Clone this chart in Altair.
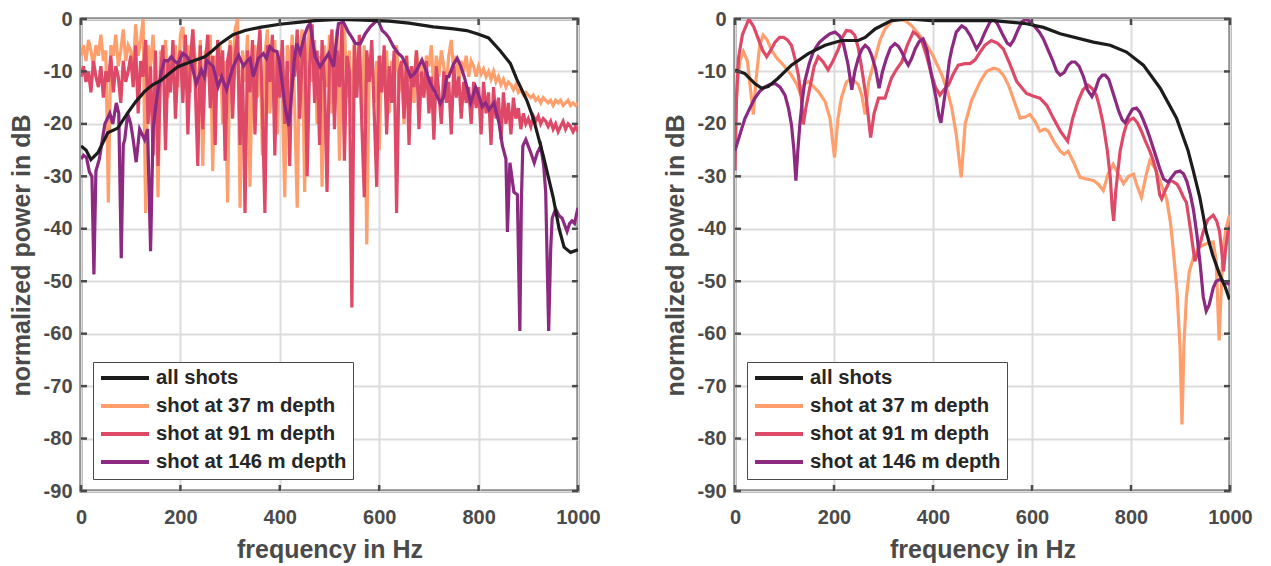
import altair as alt
import pandas as pd

SERIES = ["all shots", "shot at 37 m depth", "shot at 91 m depth", "shot at 146 m depth"]
COLORS = ["#1c1c1c", "#fe9f6d", "#de4968", "#8c2981"]
X_TICKS = [0, 200, 400, 600, 800, 1000]
Y_TICKS = [-90, -80, -70, -60, -50, -40, -30, -20, -10, 0]

# ---------------- left panel (raw spectra) ----------------
L_ALL = [(0, -24.2), (10, -25), (20, -26.8), (34, -25.5), (54, -21.7), (74, -20.8), (94, -17.9),
         (110, -15.8), (128, -13.8), (145, -12.5), (161, -11.7), (180, -10.2), (195, -9.1),
         (220, -8.2), (249, -7.2), (265, -6.0), (280, -4.7), (306, -3.0), (330, -2.2), (360, -1.6),
         (400, -1.0), (441, -0.6), (470, -0.3), (520, -0.1), (570, -0.2), (620, -0.4), (660, -0.8),
         (709, -1.5), (750, -1.9), (776, -2.2), (800, -2.9), (820, -3.6), (843, -6.0), (864, -8.5),
         (877, -11.5), (897, -15.5), (910, -18.9), (930, -26), (950, -34), (962, -40), (972, -43.5),
         (985, -44.5), (1000, -44)]

L_FREQ = list(range(0, 1001, 5))

L_37 = [-7, -5, -8, -4, -6, -9, -5, -7, -3, -8, -6, -35, -5, -7, -3, -9, -6, -2, -8, -5,
        -6, -10, -1, -7, -4, 0, -37, -5, -9, -3, -12, -34, -6, -10, -4, -15, -7, -11, -5, -13,
        -3, -1.5, -9, -5, -14, -2, -8, -18, -4, -28, -6, -11, -3, -29, -7, -12, -5, -20, -8, -35,
        -4, -10, -2, 0, -36, -6, -12, -3, -32, -8, -5, -15, -3, -26, -7, -2, -18, -9, -4, -22,
        -6, -14, -34, -5, -10, -3, -17, -36, -6, -2, -33, -8, 0, -12, -4, -20, -7, -32, -5, -13,
        -3, -18, -8, -2, -27, -5, -1, -15, -6, -22, -4, -12, -7, -19, -5, -43, -9, -6, -16, -8,
        -25, -7, -12, -6, -18, -8, -11, -5, -14, -8, -20, -7, -12, -9, -16, -6, -11, -8, -13, -7,
        -9, -5, -14, -7, -11, -6, -9, -13, -7, -4, -10, -7, -12, -8, -10, -7, -11, -8, -9, -11,
        -9, -10.5, -9.5, -11, -10, -11.5, -10, -12, -11, -12.5, -11.5, -13, -12, -12.5, -13.5, -12.5, -14, -13.5, -14.5, -14,
        -14.5, -15, -14.5, -15.5, -15, -16, -15, -15.5, -16, -15.5, -16.5, -15.5, -16, -15.5, -16.5, -16, -15.5, -16.5, -16, -16.5,
        -16]

L_91 = [-11, -9, -12, -10, -14, -8, -11, -13, -9, -15, -10, -12, -7, -14, -9, -11, -16, -8, -12, -10,
        -7, -13, -5, -18, -8, -11, -4, -20, -9, -26, -6, -28, -10, -5, -25, -8, -14, -4, -19, -9,
        -6, -16, -3, -22, -8, -2, -13, -28, -5, -21, -9, -3, -17, -7, -24, -4, -11, -6, -27, -8,
        -5, -19, -7, -3, -24, -9, -37, -6, -14, -4, -22, -8, -2, -17, -37, -5, -12, -3, -26, -7,
        -15, -4, -20, -8, -28, -5, -11, -2, -19, -7, -3, -30, -9, -1, -16, -6, -24, -4, -12, -33,
        -8, -2, -21, -6, -13, -1, -27, -7, -10, -55, -5, -15, -3, -20, -34, -6, -12, -4, -18, -32,
        -7, -14, -5, -22, -9, -16, -6, -37, -10, -8, -19, -7, -24, -9, -13, -6, -21, -10, -15, -8,
        -18, -11, -23, -9, -14, -20, -10, -16, -12, -22, -9, -15, -11, -19, -12, -16, -13, -20, -12, -17,
        -13, -22, -12, -18, -14, -24, -13, -19, -15, -23, -14, -20, -16, -22, -15, -19, -17, -21, -18, -20,
        -19, -20.5, -18.5, -19.5, -18.5, -20, -19, -19.5, -20.5, -19.5, -21, -20, -21.5, -20.5, -19.5, -21, -20, -20.5, -21.5, -20.5,
        -21.5]

L_146 = [(0, -26.7), (5, -26), (11, -26.4), (17, -29.2), (22, -30), (26, -48.7), (30, -29), (37, -26.7),
         (43, -23), (48, -20), (53, -19), (58, -18), (64, -20), (71, -16), (76, -18), (81, -45.6),
         (85, -24), (88, -23), (94, -18), (100, -20), (105, -23), (111, -27.3), (118, -21), (123, -22),
         (128, -23), (134, -21), (140, -44.3), (145, -21), (150, -17), (155, -13.5), (162, -10),
         (168, -7.9), (175, -8), (182, -7.2), (188, -8), (195, -8.5), (200, -7.5), (205, -6.6),
         (212, -7), (222, -8.5), (232, -12.3), (242, -9.7), (248, -11), (253, -7.9), (260, -8.5),
         (266, -9.1), (276, -12.9), (283, -11), (293, -13.5), (300, -11), (306, -9.1), (317, -6.9),
         (327, -9), (334, -8), (340, -7.5), (347, -11), (357, -7.5), (367, -6.6), (373, -7.5),
         (380, -5.3), (387, -6), (394, -6.2), (399, -8), (404, -11.6), (410, -16.4), (418, -20.4),
         (424, -14), (429, -8), (434, -4.7), (441, -6.5), (450, -3), (456, -1.5), (461, -0.9),
         (466, -4), (471, -7.2), (481, -9.1), (485, -8.5), (494, -7.2), (498, -6.6), (508, -9.1),
         (513, -5), (518, -0.9), (528, -0.6), (538, -2.5), (545, -3.5), (552, -4.7), (562, -4.7),
         (572, -2.8), (582, -1.5), (592, -0.6), (598, -0.3), (606, -2.2), (613, -2.8), (619, -3.5),
         (629, -5.3), (638, -6.5), (646, -7.2), (655, -9), (663, -11), (670, -10.5), (676, -9.7),
         (686, -7.8), (695, -10), (703, -12.3), (713, -14), (723, -16.1), (730, -14.8), (736, -11),
         (740, -11), (750, -8.5), (757, -7.5), (764, -9), (771, -11), (778, -13.5), (784, -16),
         (794, -13), (800, -14.5), (807, -16.7), (814, -16), (821, -17.3), (831, -16), (841, -19.8),
         (848, -24.2), (855, -26.7), (858, -40.6), (863, -27.4), (871, -33), (878, -33.5),
         (883, -59.5), (886, -35), (889, -24.2), (895, -23), (905, -25.5), (912, -27.4),
         (918, -25.5), (925, -24.2), (931, -28), (935, -33), (941, -59.5), (945, -44), (948, -38),
         (955, -36.2), (962, -37.5), (968, -38), (978, -40.5), (983, -39), (988, -38.5), (993, -39),
         (998, -36.8), (1000, -36)]

# ---------------- right panel (smoothed spectra) ----------------
R_ALL = [(0, -9.75), (20, -10.4), (40, -12.3), (54, -13.2), (67, -12.9), (87, -11.3), (114, -8.8),
         (148, -6.6), (182, -5.0), (215, -4.1), (249, -4.1), (263, -3.5), (283, -1.9), (316, -0.3),
         (350, 0), (397, -0.3), (455, -0.3), (522, -0.3), (589, -0.9), (623, -1.6), (657, -2.8),
         (724, -4.4), (758, -5.0), (791, -6.3), (825, -8.8), (859, -13.2), (892, -18.9), (915, -25),
         (926, -29), (939, -34), (952, -40.6), (965, -45), (979, -48.7), (990, -51), (999, -53.5)]

R_37 = [(0, -20), (5, -12), (10, -8), (17, -6.2), (25, -8), (32, -14), (37, -18.2), (42, -12), (50, -5),
        (57, -3.1), (65, -4), (75, -6.2), (85, -7.5), (98, -8.8), (114, -10.7), (125, -12.5),
        (131, -14), (140, -12.5), (148, -11.9), (168, -13.8), (182, -15.7), (192, -19), (201, -26.4),
        (208, -19), (215, -15), (225, -12), (236, -11.3), (249, -12.5), (256, -14.5), (263, -18.2),
        (270, -12), (283, -7.5), (293, -4), (303, -1.9), (316, -0.5), (330, 0), (344, -0.3),
        (357, -1.3), (370, -2.8), (384, -4.4), (400, -7), (418, -10.7), (430, -14), (438, -17),
        (447, -22), (457, -30.2), (465, -20), (478, -15.5), (495, -12), (508, -10), (522, -9.4),
        (532, -9.6), (542, -10.7), (552, -12.5), (562, -15.1), (576, -18.9), (586, -18.7),
        (596, -18.2), (606, -19.5), (616, -21.4), (626, -21), (633, -21.4), (645, -23.5),
        (657, -25.2), (665, -25.8), (673, -25.2), (685, -27.5), (697, -30.2), (710, -30.5),
        (724, -30.8), (734, -31.5), (744, -32.7), (754, -29.5), (764, -27.7), (774, -29.5),
        (785, -31.4), (795, -30), (805, -29.6), (813, -32), (821, -34), (830, -30), (838, -27),
        (849, -28.5), (859, -31), (872, -34.3), (880, -39), (885, -43.7), (893, -52), (899, -62.6),
        (903, -77.3), (907, -62), (912, -53), (918, -48), (926, -45.6), (936, -43.6), (946, -43.1),
        (956, -42.7), (966, -42.5), (972, -46), (978, -61.3), (983, -50), (986, -43.7), (992, -40),
        (999, -37.4)]

R_91 = [(0, -28.9), (3, -15), (7, -7.5), (15, -3), (28, 0), (38, -1.5), (47, -3.8), (56, -6), (64, -7.2),
        (72, -6), (81, -4.4), (90, -3.5), (98, -3.5), (106, -4), (114, -5), (121, -7.5), (128, -10.7),
        (134, -15), (138, -20.1), (143, -17), (151, -13.2), (160, -9), (168, -7.2), (178, -8.2),
        (188, -9.7), (198, -8), (209, -5.7), (217, -3.5), (225, -2.2), (234, -2.3), (242, -3.1),
        (249, -5.5), (256, -9.4), (265, -15), (274, -22.6), (281, -18), (290, -15.1), (303, -15.1),
        (316, -11.3), (327, -9.5), (337, -8.2), (348, -5), (360, -2.5), (368, -3), (377, -4.1),
        (387, -7), (397, -10.7), (405, -13), (414, -14.5), (422, -13.5), (431, -12.6), (441, -10.5),
        (451, -8.8), (465, -8.5), (475, -8.5), (485, -7.8), (495, -6.3), (505, -5), (518, -4.1),
        (530, -4.6), (542, -5.7), (555, -8.5), (569, -11.9), (589, -14.2), (602, -14.7),
        (616, -15.1), (630, -16.5), (643, -18.9), (658, -21.5), (672, -23.3), (682, -19),
        (693, -15.7), (703, -13.5), (713, -12.6), (721, -13.2), (730, -14.5), (737, -17),
        (744, -20.1), (752, -25), (758, -30), (762, -36), (765, -38.5), (769, -33), (778, -25.2),
        (785, -22), (791, -20.1), (798, -19.2), (805, -18.9), (813, -19.8), (821, -21.4),
        (830, -23.5), (838, -25.2), (845, -27), (851, -29), (858, -33.5), (862, -34.3), (870, -32.5),
        (879, -30.8), (885, -31), (893, -31.5), (899, -32.5), (906, -34), (912, -35), (920, -40),
        (929, -46.2), (935, -44.5), (939, -43.1), (946, -40.5), (955, -38.3), (966, -37.4),
        (973, -38.5), (979, -40.6), (983, -44), (987, -48.1), (991, -44), (996, -40.6), (1000, -39.5)]

R_146 = [(0, -25.1), (10, -22), (20, -19), (30, -17), (40, -15.1), (50, -13.8), (60, -13), (70, -12.5),
         (81, -12.3), (91, -13), (101, -14.5), (108, -17), (114, -20.1), (119, -25), (123, -30.8),
         (127, -25), (131, -20.1), (136, -15.5), (141, -11.9), (150, -8.5), (158, -6.3), (170, -4.5),
         (182, -3.5), (192, -2.8), (202, -2.5), (211, -3.2), (219, -4.7), (228, -8.5), (236, -13.5),
         (242, -10), (249, -7.5), (256, -5.8), (263, -5.0), (270, -5.6), (276, -6.9), (284, -9.5),
         (291, -13.2), (298, -10), (306, -7.5), (314, -5.5), (323, -4.7), (330, -5.2), (337, -6.3),
         (344, -7.8), (350, -8.8), (357, -7.5), (364, -5.7), (372, -4.3), (380, -3.8), (388, -6),
         (397, -10.7), (406, -15), (412, -18.5), (416, -19.8), (421, -16.5), (428, -11.9), (433, -8),
         (438, -5.7), (447, -2.5), (458, -1.3), (466, -1.8), (475, -3.1), (482, -4.5), (488, -5.7),
         (496, -4.5), (505, -2.5), (515, -0.6), (522, 0), (530, -0.9), (540, -2.8), (550, -4.6),
         (556, -5), (563, -4), (572, -2), (580, -0.5), (589, 0), (597, -0.6), (606, -1.5),
         (615, -2.5), (623, -3.8), (632, -5.8), (642, -8), (650, -10), (657, -10.7), (665, -10.2),
         (673, -8.8), (680, -8.2), (687, -8.2), (695, -9), (704, -11), (712, -13.5), (721, -14.8),
         (728, -13.5), (735, -11.5), (742, -10.7), (748, -10.7), (755, -11.5), (765, -14.5),
         (775, -17.5), (782, -19.2), (788, -19.8), (795, -18.5), (803, -17.2), (811, -17),
         (818, -17.8), (825, -19.3), (832, -21), (838, -22.6), (848, -25.5), (858, -28.5),
         (866, -30.5), (875, -31.1), (882, -30.2), (890, -29.2), (899, -29), (906, -29.5),
         (913, -31), (920, -33.5), (926, -36.3), (933, -41), (940, -47), (946, -53), (952, -55.7),
         (958, -54.5), (966, -51.3), (972, -50), (979, -49.7), (986, -50), (992, -50.3), (999, -50.6)]

FONT = "Liberation Sans"
AXIS_COLOR = "#4a4a4a"


def pairs_df(pairs, name):
    return pd.DataFrame({"f": [p[0] for p in pairs], "db": [p[1] for p in pairs], "series": name})


def grid_df(values, name):
    return pd.DataFrame({"f": L_FREQ, "db": values, "series": name})


def panel(frames, w, h):
    xenc = alt.X("f:Q", scale=alt.Scale(domain=[0, 1000], nice=False, zero=False),
                 axis=alt.Axis(values=X_TICKS, title="frequency in Hz", ticks=False, domain=False,
                               labelPadding=16, titlePadding=10, labelFlush=False,
                               labelExpr="datum.value + ''"))
    yenc = alt.Y("db:Q", scale=alt.Scale(domain=[-90, 0], nice=False, zero=False),
                 axis=alt.Axis(values=Y_TICKS, title="normalized power in dB", ticks=False,
                               domain=False, labelPadding=9, titlePadding=9,
                               labelExpr="datum.value + ''"))
    color = alt.Color("series:N", scale=alt.Scale(domain=SERIES, range=COLORS),
                      legend=alt.Legend(title=None, orient="bottom-left", offset=12,
                                        symbolType="stroke", symbolSize=2304,
                                        symbolStrokeWidth=4, clipHeight=20, rowPadding=7,
                                        labelOffset=5, labelLimit=400, padding=6,
                                        labelFont=FONT, labelFontSize=20.3, labelFontWeight="bold",
                                        labelColor="#262626", strokeColor="#4a4a4a",
                                        fillColor="white"))
    layers = []
    for df in frames:
        layers.append(alt.Chart(df).mark_line(strokeWidth=3.2, clip=True).encode(
            x=xenc, y=yenc, color=color))
    xt = pd.DataFrame({"f": X_TICKS})
    yt = pd.DataFrame({"db": Y_TICKS})
    tk = dict(color=AXIS_COLOR, strokeWidth=2.5)
    layers.append(alt.Chart(xt).mark_rule(**tk).encode(x=xenc, y=alt.value(h), y2=alt.value(h - 6)))
    layers.append(alt.Chart(xt).mark_rule(**tk).encode(x=xenc, y=alt.value(0), y2=alt.value(6)))
    layers.append(alt.Chart(yt).mark_rule(**tk).encode(y=yenc, x=alt.value(0), x2=alt.value(6)))
    layers.append(alt.Chart(yt).mark_rule(**tk).encode(y=yenc, x=alt.value(w), x2=alt.value(w - 6)))
    return alt.layer(*layers).properties(width=w, height=h)


PLOT_H = 472
left = panel([grid_df(L_37, SERIES[1]), grid_df(L_91, SERIES[2]),
              pairs_df(L_146, SERIES[3]), pairs_df(L_ALL, SERIES[0])], 497, PLOT_H)
right = panel([pairs_df(R_37, SERIES[1]), pairs_df(R_91, SERIES[2]),
               pairs_df(R_146, SERIES[3]), pairs_df(R_ALL, SERIES[0])], 495, PLOT_H)

chart = alt.hconcat(left, right, spacing=157, bounds="flush").resolve_scale(
    color="independent").resolve_legend(color="independent").properties(
    padding={"left": -1, "top": -1, "right": 5, "bottom": 0}
).configure_view(stroke="#4a4a4a", strokeWidth=3).configure_axis(
    labelFont=FONT, labelFontSize=20, labelFontWeight="bold", labelColor=AXIS_COLOR,
    titleFont=FONT, titleFontSize=25, titleFontWeight="bold", titleColor=AXIS_COLOR,
    gridColor="#dcdcdc", gridWidth=2, gridOpacity=1
)

chart.save("out.html", embed_options={"renderer": "svg", "actions": False})
